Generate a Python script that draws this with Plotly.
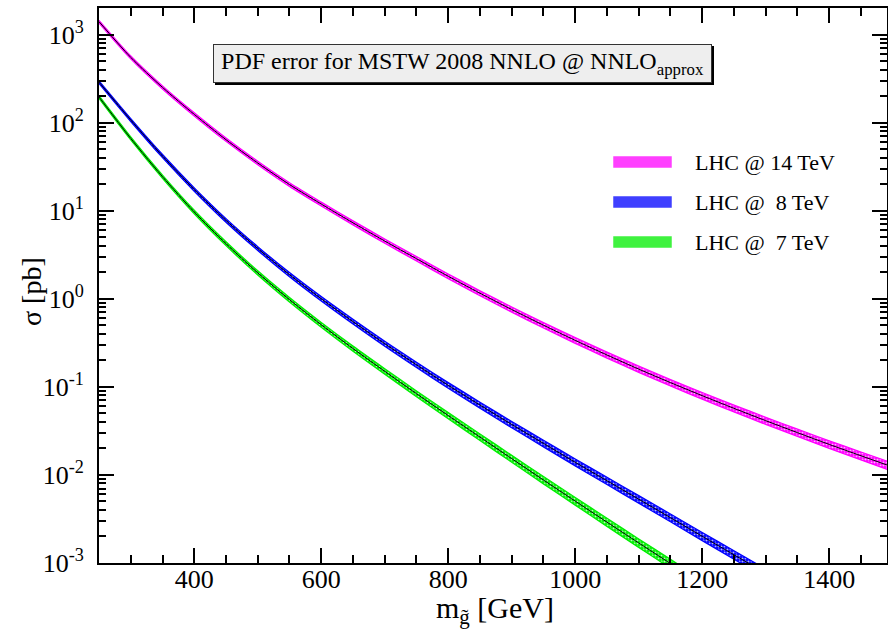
import plotly.graph_objects as go

# ---------------- data ----------------
mass_14 = [250, 300, 350, 400, 450, 500, 550, 600, 650, 700, 750, 800, 850, 900,
           950, 1000, 1050, 1100, 1150, 1200, 1250, 1300, 1350, 1400, 1450, 1500]
xsec_14 = [1400, 550, 251, 124, 64, 34.8, 19.8, 11.9, 7.28, 4.52, 2.85, 1.80, 1.156, 0.755,
           0.501, 0.337, 0.230, 0.159, 0.1117, 0.0794, 0.0570, 0.0413, 0.0302, 0.0222, 0.0165, 0.0123]
err_14 = [0.035, 0.037, 0.039, 0.041, 0.043, 0.045, 0.047, 0.050, 0.053, 0.056, 0.059, 0.062, 0.065,
          0.068, 0.071, 0.074, 0.077, 0.080, 0.083, 0.086, 0.089, 0.092, 0.095, 0.099, 0.103, 0.107]

mass_8 = [250, 300, 350, 400, 450, 500, 550, 600, 650, 700, 750, 800, 850, 900,
          950, 1000, 1050, 1100, 1150, 1200, 1250, 1300]
xsec_8 = [288, 107, 41.7, 17.4, 7.76, 3.72, 1.88, 1.0, 0.550, 0.309, 0.178, 0.104, 0.0621, 0.0374,
          0.0228, 0.0139, 0.00859, 0.0053, 0.00327, 0.00201, 0.00124, 0.000766]
err_8 = [0.035, 0.038, 0.041, 0.044, 0.047, 0.050, 0.054, 0.058, 0.062, 0.066, 0.070, 0.074, 0.078,
         0.082, 0.086, 0.090, 0.094, 0.098, 0.102, 0.106, 0.110, 0.114]

mass_7 = [250, 300, 350, 400, 450, 500, 550, 600, 650, 700, 750, 800, 850, 900,
          950, 1000, 1050, 1100, 1150, 1200]
xsec_7 = [195, 66.1, 24.3, 9.66, 4.22, 1.97, 0.977, 0.507, 0.272, 0.150, 0.0836, 0.0472, 0.0269, 0.0153,
          0.00875, 0.00504, 0.00291, 0.00169, 0.000986, 0.000575]
err_7 = [0.035, 0.038, 0.042, 0.046, 0.050, 0.054, 0.058, 0.062, 0.066, 0.070, 0.075, 0.080, 0.085,
         0.090, 0.095, 0.100, 0.105, 0.110, 0.115, 0.120]

series_names = ["LHC @ 14 TeV", "LHC @ \u00a08 TeV", "LHC @ \u00a07 TeV"]
series_colors = ["#ff00ff", "#0000ff", "#00ee00"]

y_tickvals = [1e-3, 1e-2, 1e-1, 1, 10, 100, 1000]
y_ticktext = ["10<sup>-3</sup>", "10<sup>-2</sup>", "10<sup>-1</sup>", "10<sup>0</sup>",
              "10<sup>1</sup>", "10<sup>2</sup>", "10<sup>3</sup>"]
x_tickvals = [400, 600, 800, 1000, 1200, 1400]

title_text = "PDF error for MSTW 2008 NNLO @ NNLO<sub>approx</sub>"
x_title = "m<sub>g\u0303</sub> [GeV]"
y_title = "\u03c3 [pb]"

# ---------------- layout geometry ----------------
W, H = 888, 637
L, R, T, B = 99, 887, 8, 563
FONT = "Liberation Serif, Times New Roman, Times, serif"


def px(x):
    return (x - L) / (R - L)


def py(y):
    return 1 - (y - T) / (B - T)


fig = go.Figure()

datasets = [(mass_14, xsec_14, err_14), (mass_8, xsec_8, err_8), (mass_7, xsec_7, err_7)]
for (m, s, e), col in zip(datasets, series_colors):
    lo = [v * (1 - d) for v, d in zip(s, e)]
    hi = [v * (1 + d) for v, d in zip(s, e)]
    fig.add_trace(go.Scatter(x=m, y=lo, mode="lines",
                             line=dict(color=col, width=1.3, shape="spline", smoothing=0.8),
                             showlegend=False, hoverinfo="skip"))
    fig.add_trace(go.Scatter(x=m, y=hi, mode="lines",
                             line=dict(color=col, width=1.3, shape="spline", smoothing=0.8),
                             fill="tonexty", fillcolor=col,
                             fillpattern=dict(shape=".", bgcolor=col, fgcolor="white",
                                              fgopacity=0.7, size=3, solidity=0.35),
                             showlegend=False, hoverinfo="skip"))
    fig.add_trace(go.Scatter(x=m, y=s, mode="lines",
                             line=dict(color="black", width=1, shape="spline", smoothing=0.8),
                             showlegend=False, hoverinfo="skip"))

y_minor = [k * 10 ** p for p in range(-3, 4) for k in range(2, 10) if k * 10 ** p < 2000]
x_minor = list(range(250, 1501, 50))

fig.update_xaxes(
    type="linear", range=[250, 1491], showline=True, linecolor="black", linewidth=2,
    mirror="ticks", ticks="inside", ticklen=15, tickwidth=2, tickcolor="black",
    tickmode="array", tickvals=x_tickvals, showgrid=False, zeroline=False,
    tickfont=dict(family=FONT, size=26, color="black"), ticklabelstandoff=-8,
    minor=dict(tickmode="array", tickvals=x_minor, ticks="inside", ticklen=8,
               tickwidth=1.5, tickcolor="black", showgrid=False),
)
fig.update_yaxes(
    type="log", range=[-3, 3.301], showline=True, linecolor="black", linewidth=2,
    mirror="ticks", ticks="inside", ticklen=15, tickwidth=2, tickcolor="black",
    tickmode="array", tickvals=y_tickvals, ticktext=y_ticktext, showgrid=False,
    tickfont=dict(family=FONT, size=26, color="black"), ticklabelstandoff=8,
    minor=dict(tickmode="array", tickvals=y_minor, ticks="inside", ticklen=7,
               tickwidth=1.5, tickcolor="black", showgrid=False),
)

shapes = []
annotations = []

# title box with shadow
bx0, by0, bx1, by1 = 213, 44, 712, 83
shapes.append(dict(type="rect", xref="paper", yref="paper", x0=px(bx0 + 2), x1=px(bx1 + 2),
                   y0=py(by1 + 2), y1=py(by0 + 2), fillcolor="black", line=dict(width=0),
                   layer="above"))
annotations.append(dict(xref="paper", yref="paper", x=px((bx0 + bx1) / 2), y=py((by0 + by1) / 2),
                        text=title_text, showarrow=False, xanchor="center", yanchor="middle",
                        width=bx1 - bx0 - 4, height=by1 - by0 - 4, bgcolor="#eeeeee",
                        bordercolor="#333333", borderwidth=1, borderpad=1,
                        font=dict(family=FONT, size=24, color="black")))

# legend
leg_y = [162, 202, 242]
for name, col, yy in zip(series_names, series_colors, leg_y):
    shapes.append(dict(type="rect", xref="paper", yref="paper", x0=px(614), x1=px(671),
                       y0=py(yy + 5), y1=py(yy - 5), fillcolor=col, opacity=0.75,
                       line=dict(color=col, width=1.5), layer="above"))
    annotations.append(dict(xref="paper", yref="paper", x=px(693), y=py(yy), text=name,
                            showarrow=False, xanchor="left", yanchor="middle",
                            font=dict(family=FONT, size=22, color="black")))

# axis titles
annotations.append(dict(xref="paper", yref="paper", x=px(495), y=py(610), text=x_title,
                        showarrow=False, xanchor="center", yanchor="middle",
                        font=dict(family=FONT, size=30, color="black")))
annotations.append(dict(xref="paper", yref="paper", x=px(31), y=py(292), text=y_title,
                        showarrow=False, xanchor="center", yanchor="middle", textangle=-90,
                        font=dict(family=FONT, size=28, color="black")))

fig.update_layout(
    width=W, height=H, margin=dict(l=L, r=W - R, t=T, b=H - B, autoexpand=False),
    paper_bgcolor="white", plot_bgcolor="white", showlegend=False,
    shapes=shapes, annotations=annotations,
    font=dict(family=FONT, color="black"),
)

fig.write_html("out.html")
